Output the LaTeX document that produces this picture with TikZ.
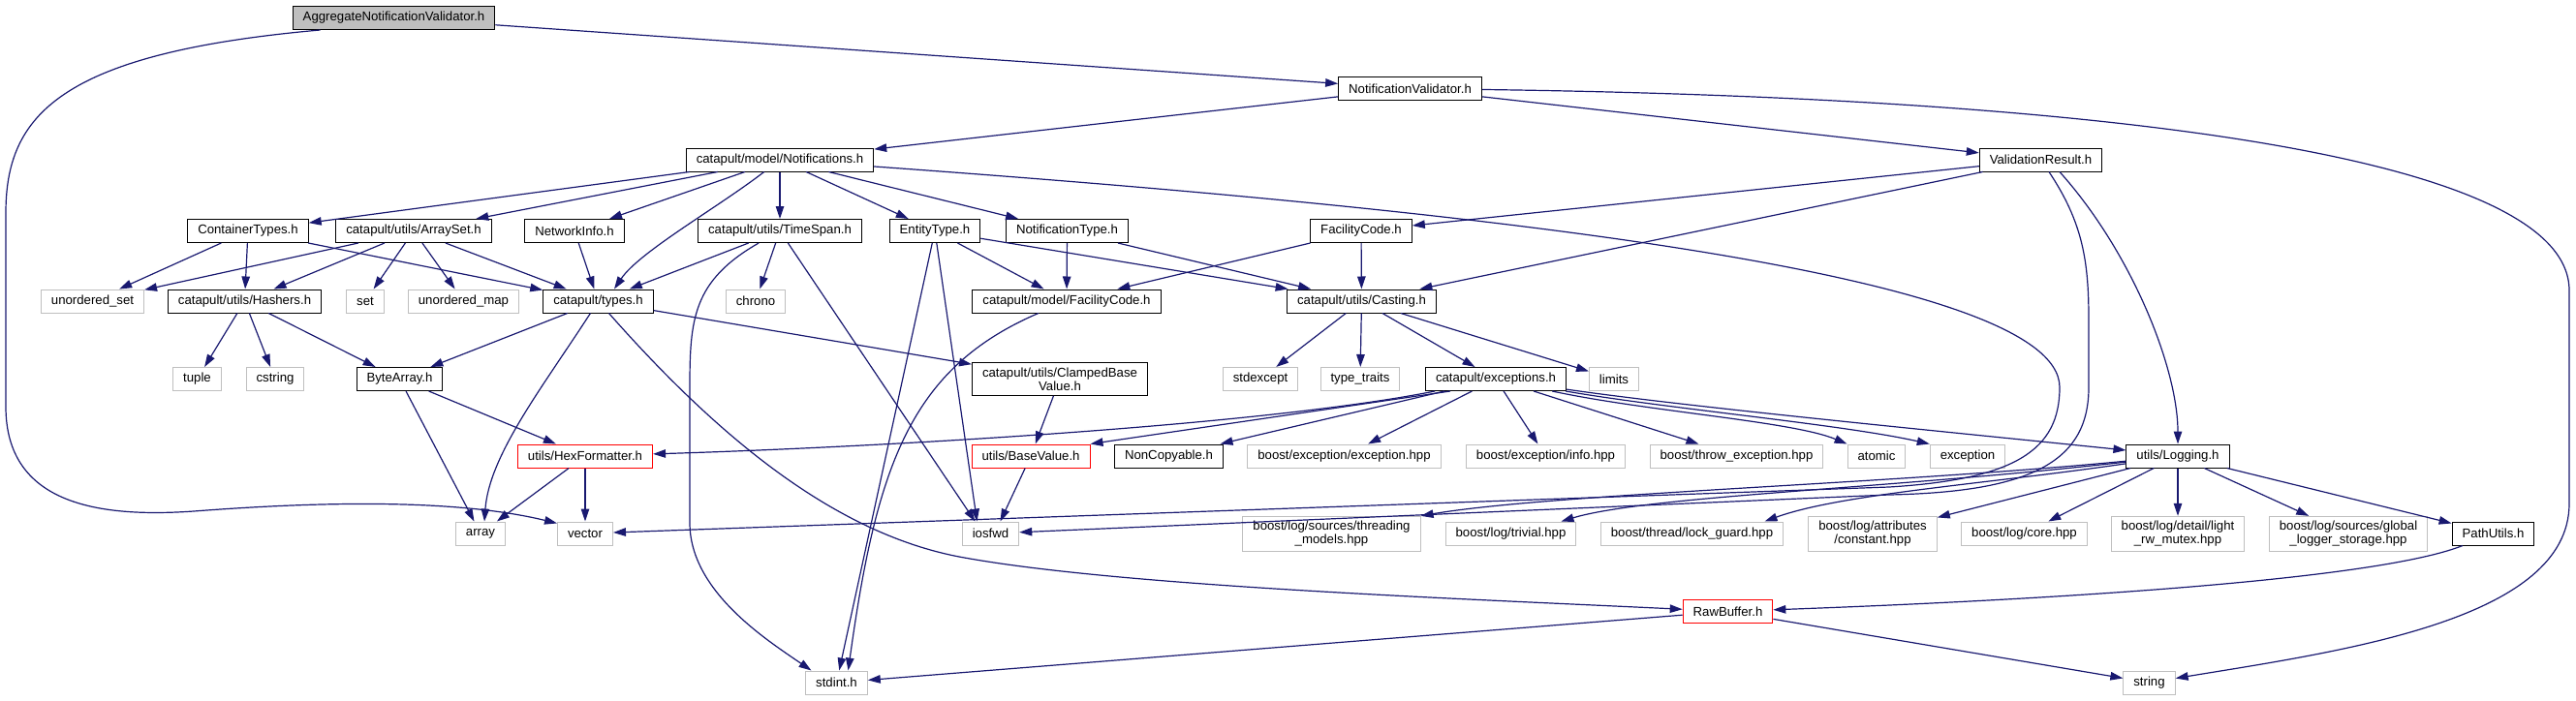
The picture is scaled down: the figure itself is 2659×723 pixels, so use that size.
\documentclass[tikz,border=0pt]{standalone}
\usepackage{fontspec}
\setmainfont{Liberation Sans}
\usepackage{tikz}
\usetikzlibrary{arrows.meta,positioning,calc}
\definecolor{edgeblue}{HTML}{191970}
\definecolor{sysgray}{HTML}{BFBFBF}

\begin{document}
\begin{tikzpicture}[x=1pt, y=-1pt,
    hdr/.style={draw=black, fill=white, line width=1pt, minimum height=24pt, inner xsep=10.5pt, inner ysep=5pt, align=center, font=\fontsize{13.2}{14}\selectfont},
    sys/.style={draw=sysgray, fill=white, line width=1pt, minimum height=24pt, inner xsep=10.5pt, inner ysep=5pt, align=center, font=\fontsize{13.2}{14}\selectfont},
    trunc/.style={draw=red, fill=white, line width=1pt, minimum height=24pt, inner xsep=10.5pt, inner ysep=5pt, align=center, font=\fontsize{13.2}{14}\selectfont},
    mainhdr/.style={draw=black, fill=sysgray, line width=1pt, minimum height=24pt, inner xsep=10.5pt, inner ysep=5pt, align=center, font=\fontsize{13.2}{14}\selectfont},
    arr/.style={-{Triangle[length=13pt, width=8.5pt]}, line width=1.2pt, draw=edgeblue}
]
\useasboundingbox (0,0) rectangle (2659,723);

\node[mainhdr] (AGG) at (406.5,18.5) {AggregateNotificationValidator.h};
\node[hdr] (NV) at (1455.5,91.5) {NotificationValidator.h};
\node[hdr] (NTF) at (805,165) {catapult/model/Notifications.h};
\node[hdr] (VR) at (2106.5,165) {ValidationResult.h};
\node[hdr] (CT) at (256,238.5) {ContainerTypes.h};
\node[hdr] (AS) at (427,238.5) {catapult/utils/ArraySet.h};
\node[hdr] (NI) at (593,238.5) {NetworkInfo.h};
\node[hdr] (TS) at (805,238.5) {catapult/utils/TimeSpan.h};
\node[hdr] (ET) at (965,238.5) {EntityType.h};
\node[hdr] (NT) at (1101.5,238.5) {NotificationType.h};
\node[hdr] (FC) at (1405,238.5) {FacilityCode.h};
\node[sys] (US) at (95.5,311) {unordered\_set};
\node[hdr] (HA) at (252.5,311) {catapult/utils/Hashers.h};
\node[sys] (SET) at (377,311) {set};
\node[sys] (UM) at (478.5,311) {unordered\_map};
\node[hdr] (TY) at (617.5,311) {catapult/types.h};
\node[sys] (CH) at (780,311) {chrono};
\node[hdr] (MFC) at (1101,311) {catapult/model/FacilityCode.h};
\node[hdr] (CA) at (1405.5,311) {catapult/utils/Casting.h};
\node[sys] (TU) at (203.5,391.5) {tuple};
\node[sys] (CS) at (284,391.5) {cstring};
\node[hdr] (BA) at (412.5,391.5) {ByteArray.h};
\node[hdr] (CBV) at (1094,391.5) {catapult/utils/ClampedBase\\Value.h};
\node[sys] (SE) at (1301,391.5) {stdexcept};
\node[sys] (TT) at (1404,391.5) {type\_traits};
\node[hdr] (EX) at (1544,391.5) {catapult/exceptions.h};
\node[sys] (LI) at (1666,391.5) {limits};
\node[trunc] (HF) at (604,471) {utils/HexFormatter.h};
\node[trunc] (BV) at (1064,471) {utils/BaseValue.h};
\node[hdr] (NC) at (1206.5,471) {NonCopyable.h};
\node[sys] (BEE) at (1387.5,471) {boost/exception/exception.hpp};
\node[sys] (BEI) at (1595.5,471) {boost/exception/info.hpp};
\node[sys] (BTE) at (1792.5,471) {boost/throw\_exception.hpp};
\node[sys] (AT) at (1937,471) {atomic};
\node[sys] (EXC) at (2031,471) {exception};
\node[hdr] (LG) at (2248,471) {utils/Logging.h};
\node[sys] (AR) at (496,551) {array};
\node[sys] (VE) at (604,551) {vector};
\node[sys] (IO) at (1022.5,551) {iosfwd};
\node[sys] (TM) at (1374.5,551.5) {boost/log/sources/threading\\\_models.hpp};
\node[sys] (TR) at (1559.5,551) {boost/log/trivial.hpp};
\node[sys] (LK) at (1746.5,551) {boost/thread/lock\_guard.hpp};
\node[sys] (CO) at (1933,551.5) {boost/log/attributes\\/constant.hpp};
\node[sys] (CR) at (2089.5,551) {boost/log/core.hpp};
\node[sys] (LRW) at (2248,551.5) {boost/log/detail/light\\\_rw\_mutex.hpp};
\node[sys] (GLS) at (2424,551.5) {boost/log/sources/global\\\_logger\_storage.hpp};
\node[hdr] (PU) at (2573.5,551) {PathUtils.h};
\node[trunc] (RB) at (1783.5,631.5) {RawBuffer.h};
\node[sys] (SI) at (863.5,705) {stdint.h};
\node[sys] (STR) at (2218.5,705) {string};

\draw[arr] (AGG) -- (NV);
\draw[arr] ([xshift=-76pt]AGG.south) .. controls (60,55) and (6,120) .. (6,220) -- (6,420) .. controls (6,520) and (100,535) .. (200,528) .. controls (330,518) and (470,515) .. (VE.160);
\draw[arr] (NV) -- (NTF);
\draw[arr] (NV) -- (VR);
\draw[arr] (NV) .. controls (2100,100) and (2652,150) .. (2652,300) -- (2652,520) .. controls (2652,640) and (2420,672) .. (STR);
\draw[arr] (NTF) -- (CT);
\draw[arr] (NTF) -- (AS);
\draw[arr] (NTF) -- (NI);
\draw[arr] (NTF) .. controls (740,215) and (660,260) .. ([xshift=16.5pt]TY.north);
\draw[arr] (NTF) -- (TS);
\draw[arr] (NTF) -- (ET);
\draw[arr] (NTF) -- (NT);
\draw[arr] (NTF) .. controls (1500,215) and (2126,280) .. (2126,400) .. controls (2126,465) and (2080,495) .. (1950,503) -- (VE);
\draw[arr] (VR) -- (FC);
\draw[arr] (VR) -- (CA);
\draw[arr] ([xshift=19.5pt]VR.south) .. controls (2200,260) and (2248,380) .. (LG);
\draw[arr] ([xshift=8.5pt]VR.south) .. controls (2150,230) and (2156,270) .. (2156,330) -- (2156,400) .. controls (2156,475) and (2100,508) .. (1950,511) -- (IO);
\draw[arr] (CT) -- (US);
\draw[arr] (CT) -- (HA);
\draw[arr] (CT) -- (TY);
\draw[arr] (AS) -- (US);
\draw[arr] (AS) -- (HA);
\draw[arr] (AS) -- (SET);
\draw[arr] (AS) -- (UM);
\draw[arr] (AS) -- (TY);
\draw[arr] (NI) -- (TY);
\draw[arr] (TS) -- (TY);
\draw[arr] (TS) -- (CH);
\draw[arr] (TS) .. controls (715,290) and (712,330) .. (712,400) -- (712,540) .. controls (712,610) and (790,660) .. ([xshift=-26pt]SI.north);
\draw[arr] (TS) -- ([xshift=-16pt]IO.north);
\draw[arr] (ET) -- (MFC);
\draw[arr] (ET) -- (CA);
\draw[arr] (ET) -- ([xshift=-14pt]IO.north);
\draw[arr] (ET) -- (SI);
\draw[arr] (NT) -- (MFC);
\draw[arr] (NT) -- (CA);
\draw[arr] (FC) -- (MFC);
\draw[arr] (FC) -- (CA);
\draw[arr] (HA) -- (TU);
\draw[arr] (HA) -- (CS);
\draw[arr] (HA) -- (BA);
\draw[arr] (TY) -- (BA);
\draw[arr] (TY) .. controls (560,400) and (505,470) .. ([xshift=4pt]AR.north);
\draw[arr] (TY) -- (CBV);
\draw[arr] (TY) .. controls (740,450) and (860,550) .. (990,575) .. controls (1150,605) and (1500,618) .. (RB);
\draw[arr] (MFC) .. controls (940,380) and (905,480) .. ([xshift=12pt]SI.north);
\draw[arr] (CA) -- (SE);
\draw[arr] (CA) -- (TT);
\draw[arr] (CA) -- (EX);
\draw[arr] (CA) -- (LI);
\draw[arr] (BA) -- (AR);
\draw[arr] (BA) -- (HF);
\draw[arr] (CBV) -- (BV);
\draw[arr] (EX) .. controls (1300,440) and (900,462) .. (HF);
\draw[arr] ([xshift=-47pt]EX.south) -- (BV.north east);
\draw[arr] (EX) -- (NC);
\draw[arr] (EX) -- (BEE);
\draw[arr] (EX) -- (BEI);
\draw[arr] (EX) -- (BTE);
\draw[arr] (EX) .. controls (1700,425) and (1850,435) .. (AT.north west);
\draw[arr] (EX) .. controls (1720,422) and (1900,438) .. (EXC.north west);
\draw[arr] (EX) .. controls (1740,420) and (2000,445) .. ([yshift=6pt]LG.west);
\draw[arr] (HF) -- (AR);
\draw[arr] (HF) -- (VE);
\draw[arr] (BV) -- ([xshift=10pt]IO.north);
\draw[arr] (LG) .. controls (1950,500) and (1600,510) .. (TM.north east);
\draw[arr] (LG) .. controls (1950,505) and (1700,512) .. ([xshift=52pt]TR.north);
\draw[arr] (LG) .. controls (2050,500) and (1900,510) .. ([xshift=75pt]LK.north);
\draw[arr] (LG) -- (CO);
\draw[arr] (LG) -- (CR);
\draw[arr] (LG) -- (LRW);
\draw[arr] (LG) -- (GLS);
\draw[arr] (LG) -- (PU);
\draw[arr] (PU) .. controls (2450,600) and (2100,620) .. (RB);
\draw[arr] (RB) -- (SI);
\draw[arr] (RB) -- (STR);
\end{tikzpicture}
\end{document}
